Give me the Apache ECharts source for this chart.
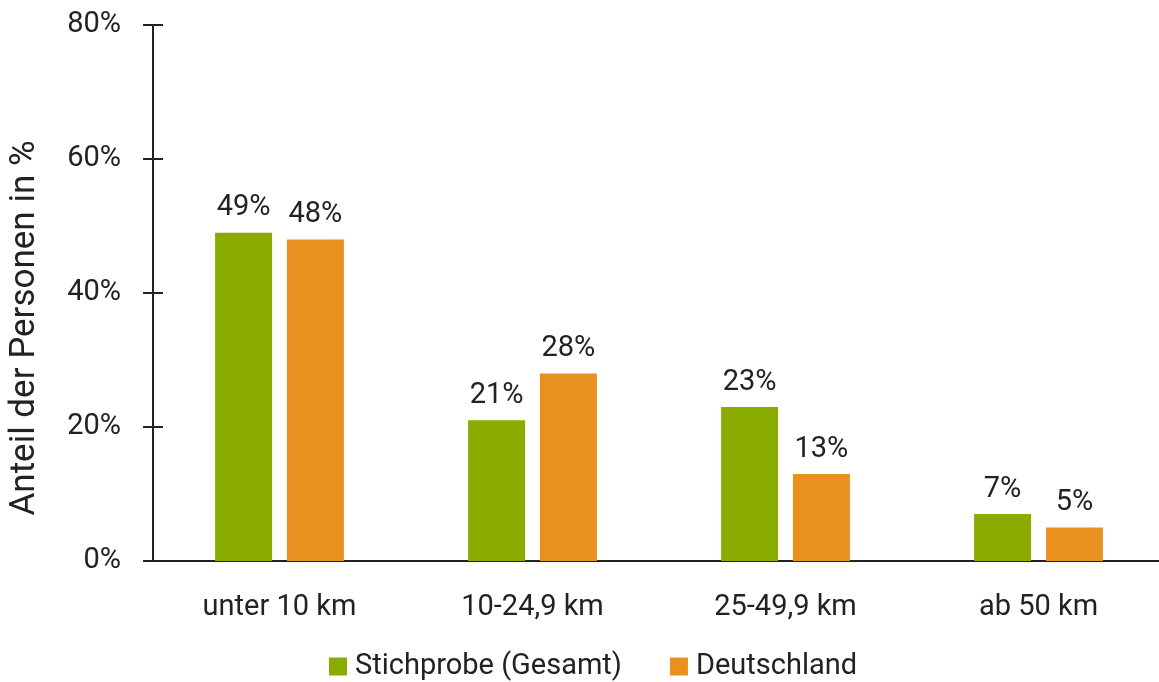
<!DOCTYPE html>
<html>
<head>
<meta charset="utf-8">
<script src="https://cdn.jsdelivr.net/npm/echarts@6/dist/echarts.min.js"></script>
<style>
  html, body { margin: 0; padding: 0; background: #fff; overflow: hidden; }
  /* the axis runs a few pixels past the right edge of the picture */
  #chart { width: 1165px; height: 682px; }
</style>
</head>
<body>
<div id="chart"></div>
<script>
// Entfernung zum Arbeitsplatz
const categories = ['unter 10 km', '10-24,9 km', '25-49,9 km', 'ab 50 km'];
const stichprobe = [49, 21, 23, 7];
const deutschland = [48, 28, 13, 5];
const yTicks = [0, 20, 40, 60, 80];

const font = 'Roboto, "DejaVu Sans", sans-serif';
const ink = '#222';

const chart = echarts.init(document.getElementById('chart'));

const option = {
  animation: false,
  textStyle: { fontFamily: font },
  grid: { left: 150, right: 0, top: 25, bottom: 121 },
  legend: {
    top: 647,
    left: 324,
    icon: 'rect',
    itemWidth: 18,
    itemHeight: 18,
    itemGap: 48,
    textStyle: { fontFamily: font, fontSize: 29, color: ink, padding: [0, 0, 0, 3] },
    data: ['Stichprobe (Gesamt)', 'Deutschland']
  },
  xAxis: {
    type: 'category',
    data: categories,
    axisLine: { lineStyle: { color: ink, width: 2 } },
    axisTick: { show: false },
    axisLabel: { margin: 32, fontSize: 29, color: ink, fontFamily: font }
  },
  yAxis: [
    {
      type: 'value',
      min: yTicks[0],
      max: yTicks[yTicks.length - 1],
      interval: 20,
      name: 'Anteil der Personen in %',
      nameLocation: 'middle',
      nameGap: 110,
      nameTextStyle: { fontSize: 35, color: ink, fontFamily: font, padding: [0, 70, 0, 0] },
      axisLine: { show: true, lineStyle: { color: ink, width: 2 } },
      axisTick: { show: true, length: 10, lineStyle: { color: ink, width: 2 } },
      axisLabel: { margin: 32, fontSize: 29, color: ink, fontFamily: font, formatter: '{value}%' },
      splitLine: { show: false }
    },
    {
      // inner half of the crossing ticks
      type: 'value',
      min: yTicks[0],
      max: yTicks[yTicks.length - 1],
      interval: 20,
      position: 'left',
      axisLine: { show: false },
      axisTick: { show: true, inside: true, length: 10, lineStyle: { color: ink, width: 2 } },
      axisLabel: { show: false },
      splitLine: { show: false }
    }
  ],
  series: [
    {
      name: 'Stichprobe (Gesamt)',
      type: 'bar',
      data: stichprobe,
      barWidth: 57,
      barGap: '26%',
      itemStyle: { color: '#8aab00' },
      label: { show: true, position: 'top', distance: 10, fontSize: 29, color: ink, fontFamily: font, formatter: '{c}%' }
    },
    {
      name: 'Deutschland',
      type: 'bar',
      data: deutschland,
      barWidth: 57,
      barGap: '26%',
      itemStyle: { color: '#e8911e' },
      label: { show: true, position: 'top', distance: 10, fontSize: 29, color: ink, fontFamily: font, formatter: '{c}%' }
    }
  ]
};

chart.setOption(option);
</script>
</body>
</html>
